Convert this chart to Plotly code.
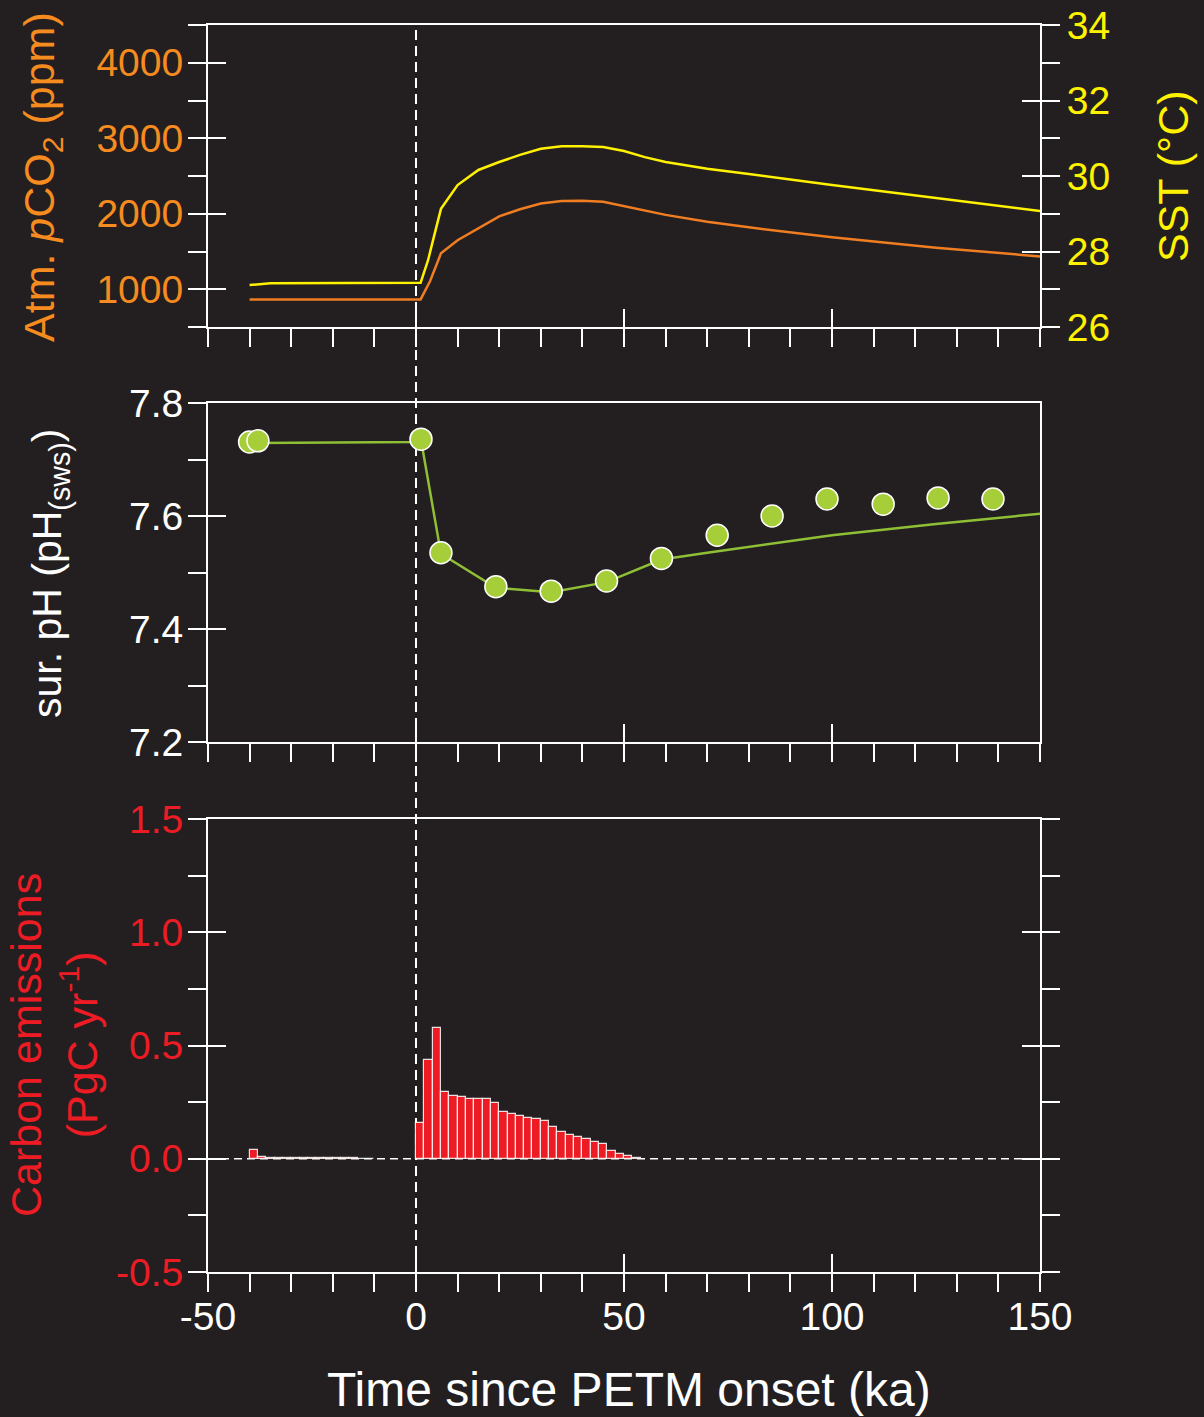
import plotly.graph_objects as go

# ---------------- data ----------------
pco2_time = [-40, 1.1, 3.4, 6, 10, 15, 20, 25, 30, 35, 40, 45, 50, 55, 60, 70, 80, 100, 125, 150]
pco2_ppm = [865, 865, 1110, 1475, 1650, 1810, 1965, 2060, 2135, 2170, 2172, 2160, 2105, 2040, 1985, 1895, 1820, 1690, 1550, 1435]

sst_time = [-40, -35, 1.1, 2.9, 4.1, 6, 10, 15, 20, 25, 30, 35, 40, 45, 50, 55, 60, 70, 80, 100, 125, 150]
sst_c = [27.11, 27.16, 27.17, 27.77, 28.3, 29.13, 29.76, 30.16, 30.37, 30.56, 30.72, 30.79, 30.79, 30.77, 30.66, 30.5, 30.37, 30.19, 30.05, 29.76, 29.42, 29.07]

ph_model_time = [-40, 0, 1.2, 6, 19.2, 32.5, 45.8, 59, 70, 85, 100, 125, 150]
ph_model = [7.729, 7.731, 7.735, 7.533, 7.473, 7.465, 7.483, 7.523, 7.535, 7.551, 7.566, 7.586, 7.604]

ph_obs_time = [-40, -38, 1.2, 6, 19.2, 32.5, 45.8, 59, 72.4, 85.6, 98.8, 112.3, 125.5, 138.7]
ph_obs = [7.731, 7.733, 7.736, 7.535, 7.475, 7.467, 7.485, 7.525, 7.566, 7.600, 7.630, 7.621, 7.632, 7.630]

emis_start_ka = [-40, -38, -36, -34, -32, -30, -28, -26, -24, -22, -20, -18, -16, -14, -12,
                 0, 2, 4, 6, 8, 10, 12, 14, 16, 18, 20, 22, 24, 26, 28, 30, 32, 34, 36, 38,
                 40, 42, 44, 46, 48, 50, 52]
emis_rate = [0.038, 0.006, 0.005, 0.005, 0.005, 0.004, 0.004, 0.003, 0.003, 0.003, 0.002, 0.002, 0.002, 0.001, 0.001,
             0.160, 0.437, 0.577, 0.293, 0.277, 0.271, 0.265, 0.263, 0.265, 0.247, 0.207, 0.196, 0.190, 0.182,
             0.174, 0.168, 0.138, 0.118, 0.105, 0.094, 0.087, 0.076, 0.066, 0.034, 0.021, 0.010, 0.003]

x_tickvals = [-50, 0, 50, 100, 150]
x_ticktext = ['-50', '0', '50', '100', '150']
pco2_tickvals = [1000, 2000, 3000, 4000]
pco2_ticktext = ['1000', '2000', '3000', '4000']
sst_tickvals = [26, 28, 30, 32, 34]
sst_ticktext = ['26', '28', '30', '32', '34']
ph_tickvals = [7.2, 7.4, 7.6, 7.8]
ph_ticktext = ['7.2', '7.4', '7.6', '7.8']
emis_tickvals = [-0.5, 0.0, 0.5, 1.0, 1.5]
emis_ticktext = ['-0.5', '0.0', '0.5', '1.0', '1.5']

# ---------------- style ----------------
BG = '#231f20'
WHITE = '#ffffff'
ORANGE = '#f68b1f'
ORANGE_LINE = '#f07d22'
YELLOW = '#fff200'
GREEN = '#a6ce39'
GREEN_LINE = '#8fbf35'
RED = '#ed1c24'
FONT = 'Liberation Sans, Arial, Helvetica, sans-serif'
TL = 18
TW = 2
TICKSIZE = 39

W, H = 1204, 1417
XDOM = [208 / W, 1040 / W]
D1 = [1 - 327 / H, 1 - 25 / H]
D2 = [1 - 742 / H, 1 - 403 / H]
D3 = [1 - 1272 / H, 1 - 819 / H]
XRANGE = [-50, 150]

fig = go.Figure()

fig.add_trace(go.Scatter(x=pco2_time, y=pco2_ppm, mode='lines', xaxis='x', yaxis='y',
                         line=dict(color=ORANGE_LINE, width=2.5), showlegend=False))
fig.add_trace(go.Scatter(x=sst_time, y=sst_c, mode='lines', xaxis='x', yaxis='y2',
                         line=dict(color=YELLOW, width=2.5), showlegend=False))
fig.add_trace(go.Scatter(x=ph_model_time, y=ph_model, mode='lines', xaxis='x2', yaxis='y3',
                         line=dict(color=GREEN_LINE, width=2.5), showlegend=False))
fig.add_trace(go.Scatter(x=ph_obs_time, y=ph_obs, mode='markers', xaxis='x2', yaxis='y3',
                         marker=dict(color=GREEN, size=22, line=dict(color=WHITE, width=1.5)),
                         showlegend=False))
fig.add_trace(go.Bar(x=emis_start_ka, y=emis_rate, xaxis='x3', yaxis='y4', width=2, offset=0,
                     marker=dict(color=RED, line=dict(color='rgba(255,255,255,0.85)', width=1.2)),
                     showlegend=False))

# empty traces so that the overlay (tick-only) axes get drawn
for xa, ya in [('x4', 'y'), ('x5', 'y3'), ('x6', 'y4'), ('x', 'y7'), ('x', 'y8'),
               ('x2', 'y9'), ('x3', 'y5'), ('x3', 'y10'), ('x3', 'y11')]:
    fig.add_trace(go.Scatter(x=[None], y=[None], xaxis=xa, yaxis=ya, mode='lines',
                             hoverinfo='skip', showlegend=False))


def xout(anchor, labels=False):
    d = dict(domain=XDOM, range=XRANGE, anchor=anchor, showline=True, linecolor=WHITE, linewidth=TW,
             mirror=True, ticks='outside', ticklen=TL, tickwidth=TW, tickcolor=WHITE,
             tickmode='array', tickvals=x_tickvals, ticktext=x_ticktext,
             showticklabels=labels, showgrid=False, zeroline=False, ticklabelstandoff=-9,
             tickfont=dict(family=FONT, size=TICKSIZE, color=WHITE),
             minor=dict(ticks='outside', ticklen=TL, tickwidth=TW, tickcolor=WHITE, dtick=10, tick0=0,
                        showgrid=False))
    return d


def xin(over, anchor):
    return dict(overlaying=over, anchor=anchor, range=XRANGE, showline=False, ticks='inside',
                ticklen=TL, tickwidth=TW, tickcolor=WHITE, tickmode='array', tickvals=x_tickvals,
                showticklabels=False, showgrid=False, zeroline=False)


def yout(domain, rng, tv, tt, minor_dtick, minor_tick0, color, side='left', mirror=False,
         overlay=None, labels=True, anchor='x', standoff=-3):
    d = dict(range=rng, anchor=anchor, side=side, showline=True, linecolor=WHITE, linewidth=TW,
             mirror=mirror, ticks='outside', ticklen=TL, tickwidth=TW, tickcolor=WHITE,
             tickmode='array', tickvals=tv, ticktext=tt, showticklabels=labels,
             showgrid=False, zeroline=False, ticklabelstandoff=standoff,
             tickfont=dict(family=FONT, size=TICKSIZE, color=color),
             minor=dict(ticks='outside', ticklen=TL, tickwidth=TW, tickcolor=WHITE,
                        dtick=minor_dtick, tick0=minor_tick0, showgrid=False))
    if overlay:
        d['overlaying'] = overlay
    else:
        d['domain'] = domain
    return d


def yin(over, anchor, rng, tv, side='left'):
    return dict(overlaying=over, anchor=anchor, side=side, range=rng, showline=False, ticks='inside',
                ticklen=TL, tickwidth=TW, tickcolor=WHITE, tickmode='array', tickvals=tv,
                showticklabels=False, showgrid=False, zeroline=False)


layout = dict(
    width=W, height=H, margin=dict(l=0, r=0, t=0, b=0, autoexpand=False),
    paper_bgcolor=BG, plot_bgcolor='rgba(0,0,0,0)', showlegend=False,
    font=dict(family=FONT, color=WHITE),
    bargap=0,
    xaxis=xout('y'),
    xaxis2=xout('y3'),
    xaxis3=xout('y4', labels=True),
    xaxis4=xin('x', 'y'),
    xaxis5=xin('x2', 'y3'),
    xaxis6=xin('x3', 'y4'),
    yaxis=yout(D1, [500, 4500], pco2_tickvals, pco2_ticktext, 500, 500, ORANGE, anchor='x'),
    yaxis2=yout(None, [26, 34], sst_tickvals, sst_ticktext, 1, 0, YELLOW, side='right', overlay='y',
                anchor='x', standoff=-1),
    yaxis3=yout(D2, [7.2, 7.8], ph_tickvals, ph_ticktext, 0.1, 7.2, WHITE, mirror=True, anchor='x2'),
    yaxis4=yout(D3, [-0.5, 1.5], emis_tickvals, emis_ticktext, 0.25, 0, RED, anchor='x3'),
    yaxis5=yout(None, [-0.5, 1.5], emis_tickvals, emis_ticktext, 0.25, 0, RED, side='right',
                overlay='y4', labels=False, anchor='x3'),
    yaxis7=yin('y', 'x', [500, 4500], pco2_tickvals),
    yaxis8=yin('y', 'x', [26, 34], sst_tickvals, side='right'),
    yaxis9=yin('y3', 'x2', [7.2, 7.8], ph_tickvals),
    yaxis10=yin('y4', 'x3', [-0.5, 1.5], emis_tickvals),
    yaxis11=yin('y4', 'x3', [-0.5, 1.5], emis_tickvals, side='right'),
    shapes=[
        dict(type='line', xref='x', x0=0, x1=0, yref='paper', y0=D3[0], y1=D1[1] - 2 / H,
             line=dict(color=WHITE, width=2, dash='10px,6px'), layer='below'),
        dict(type='line', xref='x3 domain', x0=0, x1=1, yref='y4', y0=0, y1=0,
             line=dict(color=WHITE, width=1.5, dash='8px,5px'), layer='below'),
    ],
    annotations=[
        dict(text='Atm. <i>p</i>CO<sub>2</sub> (ppm)', x=42 / W, y=1 - 177 / H, xref='paper', yref='paper',
             textangle=-90, showarrow=False, xanchor='center', yanchor='middle',
             font=dict(family=FONT, size=43, color=ORANGE)),
        dict(text='SST (°C)', x=1173 / W, y=1 - 176 / H, xref='paper', yref='paper',
             textangle=-90, showarrow=False, xanchor='center', yanchor='middle',
             font=dict(family=FONT, size=43, color=YELLOW)),
        dict(text='sur. pH (pH<sub>(sws)</sub>)', x=50 / W, y=1 - 573 / H, xref='paper', yref='paper',
             textangle=-90, showarrow=False, xanchor='center', yanchor='middle',
             font=dict(family=FONT, size=41, color=WHITE)),
        dict(text='Carbon emissions<br>(PgC yr<sup>-1</sup>)', x=54 / W, y=1 - 1045 / H,
             xref='paper', yref='paper', textangle=-90, showarrow=False, xanchor='center',
             yanchor='middle', font=dict(family=FONT, size=43, color=RED)),
        dict(text='Time since PETM onset (ka)', x=629 / W, y=1 - 1389 / H, xref='paper', yref='paper',
             showarrow=False, xanchor='center', yanchor='middle',
             font=dict(family=FONT, size=48, color=WHITE)),
    ],
)

fig.update_layout(layout)
fig.write_html('out.html')
